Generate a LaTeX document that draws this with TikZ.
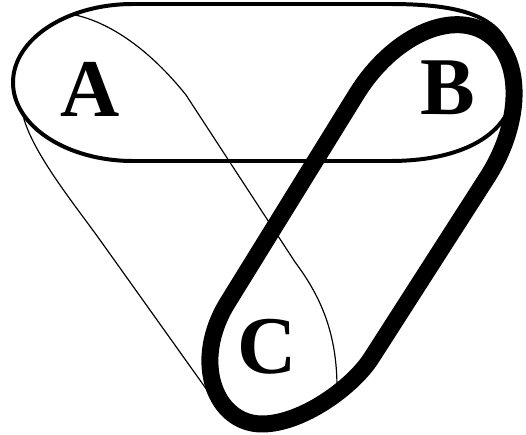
\documentclass[tikz,border=0pt]{standalone}
\usepackage{fontspec}
\setmainfont{Liberation Serif}
\usepackage{tikz}

\begin{document}
\begin{tikzpicture}[
  x=0.03cm, y=0.03cm,
  thinline/.style={draw, line width=1pt},
  midline/.style={draw, line width=3.4pt},
  thickline/.style={draw, line width=14.5pt, line join=round},
  lbl/.style={inner sep=0pt, font=\fontsize{70}{70}\selectfont\bfseries}
]
\useasboundingbox (0,0) rectangle (526,434);
\coordinate (capA) at (133,351.5);

\draw[thinline] ([shift={(capA)}]120:120 and 78.5) .. controls (110,412) and (150,384) .. (186,339)
  -- (295,172) .. controls (322,136) and (337,99) .. (337,46)
  .. controls (320,19) and (295,10) .. (262,10)
  .. controls (228,10) and (212,29) .. (207,44)
  -- (100,194) .. controls (75,229) and (30,284) .. ([shift={(capA)}]203:120 and 78.5)
  arc[start angle=203, end angle=120, x radius=120, y radius=78.5];

\draw[midline] (133,430) -- (390,430) .. controls (492,430) and (514,404) .. (514,349)
  .. controls (514,305) and (470,273) .. (390,273) -- (133,273)
  arc[start angle=270, end angle=90, x radius=120, y radius=78.5] -- cycle;

\draw[thickline] (356.95,340.6) .. controls (392.08,396.82) and (449.96,424) .. (486.25,401.3)
  .. controls (522.54,378.6) and (523.48,314.62) .. (488.35,258.4)
  -- (372,77) .. controls (353.5,47.3) and (302,10) .. (262,10)
  .. controls (215,10) and (190.9,72.6) .. (228,132) -- cycle;

\node[lbl] (la) at (90,345) {A};
\node[lbl] (lb) at (448,346) {B};
\node[lbl] (lc) at (267,87) {C};
\end{tikzpicture}
\end{document}
